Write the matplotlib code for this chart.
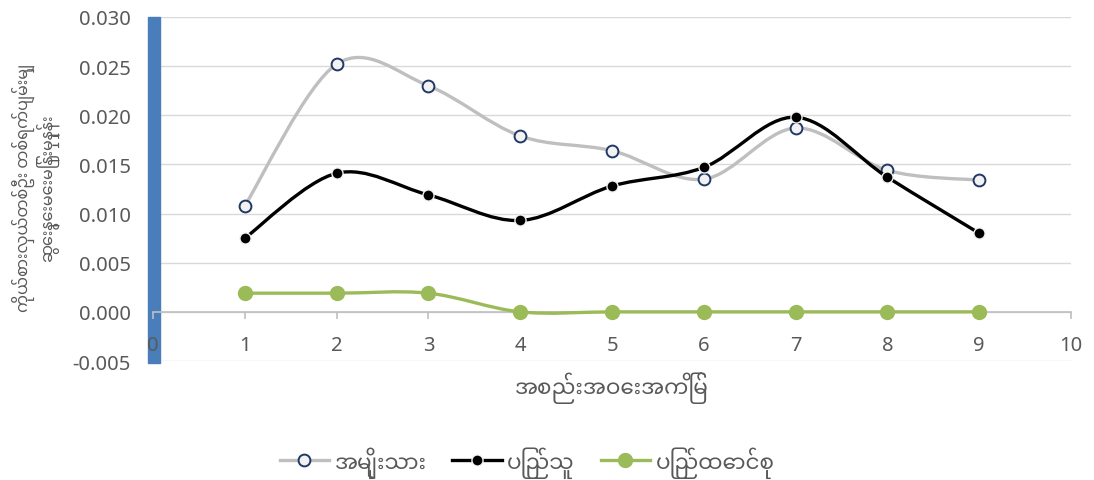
import matplotlib
matplotlib.use("Agg")
import matplotlib.pyplot as plt
import numpy as np
from matplotlib.path import Path
from matplotlib.patches import PathPatch, Rectangle
from matplotlib.lines import Line2D

MM = ["Noto Sans Myanmar", "DejaVu Sans"]
NUM = ["Noto Sans", "DejaVu Sans"]

# ---- data -------------------------------------------------------------------
meetings = [1, 2, 3, 4, 5, 6, 7, 8, 9]
amyotha = [0.0108, 0.0252, 0.0230, 0.0179, 0.0164, 0.0135, 0.0187, 0.0144, 0.0134]
pyithu = [0.0075, 0.0141, 0.0119, 0.0093, 0.0128, 0.0147, 0.0198, 0.0137, 0.0080]
union = [0.0019, 0.0019, 0.0019, 0.0, 0.0, 0.0, 0.0, 0.0, 0.0]
series_names = ["အမျိုးသား", "ပြည်သူ", "ပြည်ထောင်စု"]
xlabel = "အစည်းအဝေးအကြိမ်"
ylabel = "ကိုယ်စားလှယ်တစ်ဦး တစ်ရက်ပျမ်းမျှ\nဆွေးနွေးမေးမြန်းမှုနှုန်း"
yticks = [-0.005, 0.0, 0.005, 0.010, 0.015, 0.020, 0.025, 0.030]
xticks = list(range(0, 11))

GRID = "#D9D9D9"
AXC = "#BFBFBF"
TXT = "#595959"


def smooth_path(xs, ys):
    # Excel-style smoothed line: cubic Bezier through every point
    p = np.column_stack([xs, ys]).astype(float)
    n = len(p)
    verts, codes = [p[0]], [Path.MOVETO]
    for i in range(n - 1):
        p0, p1 = p[max(i - 1, 0)], p[i]
        p2, p3 = p[i + 1], p[min(i + 2, n - 1)]
        verts += [p1 + (p2 - p0) / 6, p2 - (p3 - p1) / 6, p2]
        codes += [Path.CURVE4] * 3
    return Path(verts, codes)


fig = plt.figure(figsize=(10.94, 4.81), dpi=100)
ax = fig.add_axes([153 / 1094, 1 - 362 / 481, (1071 - 153) / 1094, (362 - 18) / 481])
ax.set_xlim(0, 10)
ax.set_ylim(-0.005, 0.030)

for yv in yticks:
    ax.axhline(yv, color=GRID, lw=1.0, zorder=0.5)

# blue highlight bar over the vertical axis
ax.add_patch(Rectangle((148 / 1094, 1 - 364 / 481), 12 / 1094, (364 - 18) / 481,
                       transform=fig.transFigure, color="#4A7EBB", zorder=1,
                       clip_on=False))

styles = [
    (amyotha, "#BFBFBF", dict(marker="o", ms=8.5, mfc="#F2F2F2", mec="#203864", mew=1.4)),
    (pyithu, "#000000", dict(marker="o", ms=8, mfc="#000000", mec="#F2F2F2", mew=1.0)),
    (union, "#9BBB59", dict(marker="o", ms=10, mfc="#9BBB59", mec="#9BBB59", mew=1.0)),
]
handles = []
for k, (vals, col, mk) in enumerate(styles):
    ax.add_patch(PathPatch(smooth_path(meetings, vals), fill=False, ec=col,
                           lw=2.4, zorder=3 + k, capstyle="round"))
    ax.plot(meetings, vals, ls="none", zorder=3.5 + k, **mk)
    handles.append(Line2D([], [], color=col, lw=2.4, **mk))

# axes styling
for s in ["top", "right", "left"]:
    ax.spines[s].set_visible(False)
ax.spines["bottom"].set_position(("data", 0))
ax.spines["bottom"].set_color(AXC)
ax.spines["bottom"].set_linewidth(1.2)
ax.set_xticks(xticks)
ax.set_yticks(yticks)
ax.set_yticklabels([f"{v:.3f}" for v in yticks])
ax.tick_params(axis="x", length=5, width=1.2, color=AXC, pad=12,
               labelcolor=TXT, labelsize=14.5)
ax.tick_params(axis="y", length=0, pad=16, labelcolor=TXT, labelsize=14.5)
for lab in ax.get_xticklabels() + ax.get_yticklabels():
    lab.set_family(NUM)

fig.text(612 / 1094, 1 - 388 / 481, xlabel, ha="center", va="center",
         fontsize=15.5, color=TXT, family=MM)
fig.text(35 / 1094, 1 - 188 / 481, ylabel, ha="center", va="center",
         rotation=90, fontsize=11.5, color=TXT, family=MM, linespacing=1.05)

fig.legend(handles, series_names, loc="center", bbox_to_anchor=(527 / 1094, 1 - 463 / 481),
           ncol=3, frameon=False, prop={"family": MM, "size": 15.5},
           labelcolor=TXT, handlelength=2.3, handletextpad=0.25, columnspacing=1.2)

fig.savefig("out.png", dpi=100)
